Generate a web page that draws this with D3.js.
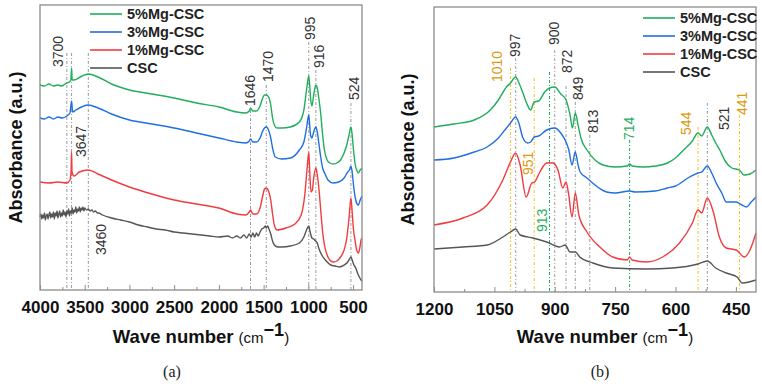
<!DOCTYPE html>
<html><head><meta charset="utf-8">
<script src="https://cdn.jsdelivr.net/npm/d3@7/dist/d3.min.js"></script>
<style>
html,body{margin:0;padding:0;background:#fff;}
svg{display:block;font-family:"Liberation Sans",Arial,sans-serif;}
</style></head>
<body>
<svg id="chart" width="762" height="384"></svg>
<script>
// ---------------- DATA ----------------
const seriesNames = ["5%Mg-CSC", "3%Mg-CSC", "1%Mg-CSC", "CSC"];

// Panel (a): [wavenumber, absorbance (a.u., offset-stacked)]
const a_mg5 = [[4000,2.05],[3950,2.04],[3900,2.06],[3850,2.04],[3800,2.05],[3760,2.04],[3720,2.06],[3700,2.07],[3670,2.08],[3655,2.10],[3647,2.22],[3640,2.10],[3620,2.10],[3550,2.13],[3460,2.16],[3350,2.13],[3200,2.06],[3000,2.00],[2750,1.96],[2500,1.92],[2250,1.87],[2000,1.83],[1800,1.78],[1700,1.77],[1660,1.79],[1646,1.82],[1620,1.79],[1580,1.79],[1540,1.84],[1510,1.92],[1490,1.95],[1470,1.95],[1445,1.93],[1420,1.85],[1400,1.72],[1380,1.65],[1350,1.62],[1300,1.62],[1200,1.63],[1100,1.68],[1050,1.80],[1020,2.00],[995,2.14],[985,2.05],[975,1.92],[960,1.84],[940,1.95],[916,2.05],[900,2.02],[880,1.90],[860,1.75],[840,1.55],[820,1.40],[790,1.30],[760,1.27],[720,1.26],[680,1.27],[640,1.30],[600,1.37],[570,1.45],[545,1.55],[524,1.63],[510,1.55],[495,1.40],[475,1.25],[455,1.19],[440,1.17],[420,1.20],[400,1.22]];
const a_mg3 = [[4000,1.72],[3950,1.71],[3900,1.73],[3850,1.71],[3800,1.73],[3750,1.72],[3700,1.74],[3665,1.77],[3647,1.89],[3635,1.78],[3600,1.80],[3460,1.85],[3350,1.82],[3200,1.76],[3000,1.70],[2750,1.66],[2500,1.62],[2250,1.57],[2000,1.52],[1800,1.48],[1700,1.47],[1660,1.49],[1646,1.51],[1620,1.48],[1580,1.48],[1540,1.52],[1510,1.59],[1490,1.62],[1470,1.63],[1445,1.60],[1420,1.52],[1400,1.42],[1370,1.33],[1300,1.31],[1200,1.32],[1100,1.40],[1050,1.48],[1020,1.62],[995,1.75],[985,1.65],[975,1.55],[960,1.52],[940,1.58],[916,1.63],[900,1.58],[880,1.45],[860,1.32],[840,1.22],[813,1.16],[780,1.10],[724,1.07],[660,1.08],[600,1.12],[560,1.18],[540,1.20],[524,1.24],[510,1.18],[495,1.05],[475,0.92],[455,0.86],[440,0.85],[420,0.90],[400,0.94]];
const a_mg1 = [[4000,1.08],[3900,1.07],[3800,1.08],[3700,1.07],[3665,1.10],[3652,1.20],[3647,1.38],[3642,1.18],[3620,1.14],[3560,1.18],[3460,1.20],[3350,1.16],[3200,1.10],[3000,1.03],[2750,0.96],[2500,0.90],[2250,0.86],[2000,0.82],[1800,0.76],[1700,0.75],[1660,0.78],[1646,0.80],[1620,0.76],[1580,0.76],[1540,0.82],[1510,0.94],[1490,1.01],[1470,1.02],[1445,0.99],[1420,0.90],[1400,0.76],[1380,0.65],[1350,0.60],[1250,0.62],[1150,0.66],[1080,0.75],[1040,0.95],[1015,1.20],[995,1.38],[985,1.20],[970,0.98],[955,1.00],[940,1.12],[916,1.22],[900,1.15],[880,1.00],[860,0.78],[840,0.58],[820,0.45],[790,0.35],[760,0.30],[720,0.28],[680,0.29],[640,0.33],[600,0.40],[570,0.52],[545,0.72],[524,0.92],[510,0.78],[495,0.60],[478,0.50],[460,0.40],[440,0.37],[425,0.42],[410,0.50],[400,0.52]];
const a_csc = [[4000,0.73],[3990,0.76],[3980,0.71],[3970,0.75],[3960,0.72],[3950,0.77],[3940,0.70],[3930,0.74],[3920,0.76],[3910,0.71],[3900,0.75],[3890,0.78],[3880,0.72],[3870,0.76],[3860,0.73],[3850,0.78],[3840,0.71],[3830,0.77],[3820,0.74],[3810,0.79],[3800,0.72],[3790,0.76],[3780,0.79],[3770,0.73],[3760,0.77],[3750,0.74],[3740,0.80],[3730,0.75],[3720,0.78],[3710,0.73],[3700,0.79],[3690,0.76],[3680,0.81],[3670,0.74],[3660,0.79],[3650,0.77],[3640,0.82],[3630,0.76],[3620,0.80],[3610,0.78],[3600,0.83],[3590,0.77],[3580,0.81],[3570,0.79],[3560,0.83],[3550,0.78],[3540,0.82],[3530,0.80],[3520,0.83],[3510,0.79],[3500,0.82],[3480,0.80],[3460,0.81],[3440,0.79],[3420,0.80],[3400,0.78],[3380,0.79],[3360,0.77],[3340,0.77],[3320,0.76],[3300,0.75],[3200,0.72],[3100,0.70],[3000,0.68],[2900,0.65],[2800,0.63],[2700,0.61],[2600,0.60],[2500,0.58],[2400,0.57],[2300,0.56],[2200,0.55],[2100,0.54],[2000,0.53],[1900,0.54],[1850,0.52],[1800,0.54],[1760,0.52],[1720,0.55],[1690,0.52],[1660,0.56],[1640,0.53],[1620,0.57],[1600,0.53],[1580,0.57],[1560,0.54],[1540,0.58],[1520,0.61],[1500,0.62],[1480,0.64],[1470,0.62],[1455,0.64],[1440,0.61],[1420,0.56],[1400,0.49],[1380,0.45],[1340,0.43],[1300,0.43],[1200,0.44],[1100,0.47],[1050,0.53],[1020,0.60],[995,0.64],[980,0.58],[960,0.52],[940,0.51],[920,0.49],[900,0.47],[880,0.41],[850,0.35],[800,0.29],[750,0.25],[700,0.24],[650,0.23],[600,0.25],[560,0.28],[540,0.31],[524,0.33],[510,0.30],[490,0.25],[470,0.22],[450,0.17],[430,0.13],[410,0.10],[400,0.09]];

// Panel (b)
const b_mg5 = [[1200,1.65],[1150,1.68],[1100,1.72],[1060,1.82],[1040,1.92],[1020,2.05],[1010,2.09],[997,2.15],[990,2.10],[980,2.00],[970,1.89],[960,1.82],[951,1.90],[940,1.91],[925,2.00],[913,2.04],[900,2.05],[885,1.98],[872,1.92],[862,1.77],[856,1.64],[849,1.79],[842,1.67],[835,1.54],[820,1.42],[800,1.32],[780,1.27],[750,1.25],[720,1.26],[714,1.28],[708,1.26],[680,1.25],[650,1.26],[620,1.29],[600,1.34],[580,1.42],[560,1.50],[544,1.59],[535,1.56],[521,1.65],[510,1.57],[500,1.49],[490,1.42],[475,1.30],[460,1.24],[441,1.22],[430,1.17],[415,1.18],[400,1.22]];
const b_mg3 = [[1200,1.32],[1150,1.34],[1100,1.40],[1068,1.45],[1040,1.54],[1020,1.64],[1010,1.69],[997,1.75],[990,1.70],[979,1.54],[967,1.49],[960,1.50],[951,1.55],[940,1.56],[920,1.62],[900,1.64],[885,1.59],[872,1.50],[865,1.42],[857,1.27],[849,1.40],[842,1.27],[837,1.20],[820,1.14],[806,1.09],[790,1.04],[771,1.00],[750,0.99],[714,1.01],[700,1.00],[650,1.01],[620,1.04],[600,1.06],[565,1.15],[544,1.19],[535,1.20],[521,1.26],[510,1.19],[499,1.09],[485,0.99],[474,0.90],[449,0.90],[435,0.87],[424,0.85],[412,0.90],[400,0.95]];
const b_mg1 = [[1200,0.67],[1128,0.74],[1068,0.87],[1029,1.12],[1010,1.30],[997,1.39],[986,1.27],[971,0.95],[957,1.09],[950,1.10],[937,1.20],[920,1.29],[905,1.29],[892,1.22],[880,1.04],[872,1.10],[866,0.99],[857,0.75],[849,0.99],[840,0.77],[820,0.60],[788,0.45],[756,0.35],[720,0.32],[714,0.35],[708,0.32],[672,0.30],[632,0.35],[590,0.49],[558,0.69],[544,0.82],[535,0.79],[521,0.94],[506,0.80],[491,0.55],[474,0.44],[449,0.42],[429,0.35],[415,0.42],[400,0.59]];
const b_csc = [[1200,0.43],[1128,0.45],[1068,0.47],[1029,0.55],[1010,0.60],[997,0.63],[986,0.57],[954,0.54],[920,0.50],[888,0.45],[874,0.47],[862,0.40],[849,0.40],[838,0.35],[805,0.29],[756,0.24],[672,0.23],[607,0.24],[544,0.28],[521,0.31],[500,0.24],[474,0.19],[447,0.15],[434,0.09],[400,0.12]];

// Tick labels
const ticksA = [4000, 3500, 3000, 2500, 2000, 1500, 1000, 500];
const minorTicksA = [3750, 3250, 2750, 2250, 1750, 1250, 750];
const ticksB = [1200, 1050, 900, 750, 600, 450];
const minorTicksB = [1125, 975, 825, 675, 525];

// Peak annotations: wavenumber, label, group
const peaksA = [[3700,"3700","k"],[3647,"3647","k"],[3460,"3460","k"],[1646,"1646","k"],[1470,"1470","k"],[995,"995","k"],[916,"916","k"],[524,"524","k"]];
const peaksB = [[1010,"1010","o"],[997,"997","k"],[951,"951","o"],[913,"913","g"],[900,"900","k"],[872,"872","k"],[849,"849","k"],[813,"813","k"],[714,"714","g"],[544,"544","o"],[521,"521","k"],[441,"441","o"]];

// ---------------- LAYOUT / STYLE ----------------
const colors = ["#1fae5b", "#1f6fe0", "#f23b3f", "#555555"];
const peakLineColor = {k:"#9a9a9a", o:"#f7c21e", g:"#1fae5b"};
const peakTextColor = {k:"#333333", o:"#dc9a12", g:"#1fae5b"};
// [label x offset, label bottom y, line top y]
const layoutA = [[-9,67,53],[9,157,53],[13,255,53],[-1,106,110],[2,82,85],[1,40,42],[3,68,70],[3,100,103]];
const layoutB = [[-14,82,68],[-1,57,58],[-6,175,78],[-8,232,72],[-1,45,50],[1,73,86],[3,100,102],[3,133,135],[-1,140,140],[-12,135,127],[17,130,103],[2,115,115]];

const svg = d3.select("#chart");

function panel(cfg) {
  const {x, y, data, ticks, minor, peaks, layout, legend, ylabX, titleX, cap, capX} = cfg;
  const [x0, x1] = x.range(), [yb, yt] = y.range();
  const g = svg.append("g");

  // peak guide lines
  peaks.forEach((p, i) => {
    const px = x(p[0]);
    g.append("line").attr("x1", px).attr("x2", px).attr("y1", layout[i][2]).attr("y2", yb)
      .attr("stroke", peakLineColor[p[2]]).attr("stroke-width", 1)
      .attr("stroke-dasharray", "3,2,1,2");
  });

  // curves
  const line = d3.line().x(d => x(d[0])).y(d => y(d[1])).curve(d3.curveMonotoneX);
  const order = [3, 2, 1, 0];
  order.forEach(k => {
    g.append("path").datum(data[k]).attr("d", line).attr("fill", "none")
      .attr("stroke", colors[k]).attr("stroke-width", 1.4).attr("stroke-linejoin", "round");
  });

  // peak labels
  peaks.forEach((p, i) => {
    const px = x(p[0]) + layout[i][0];
    g.append("text").attr("transform", `translate(${px},${layout[i][1]}) rotate(-90)`)
      .attr("dy", "0.36em").attr("font-size", 14).attr("fill", peakTextColor[p[2]])
      .text(p[1]);
  });

  // frame
  g.append("rect").attr("x", x0).attr("y", yt).attr("width", x1 - x0).attr("height", yb - yt)
    .attr("fill", "none").attr("stroke", "#8c8c8c").attr("stroke-width", 1.3);

  // axis (ticks inward)
  const ax = d3.axisBottom(x).tickValues(ticks).tickSize(-5).tickPadding(11).tickFormat(d3.format("d"));
  const axG = g.append("g").attr("transform", `translate(0,${yb})`).call(ax);
  axG.select(".domain").remove();
  axG.selectAll(".tick line").attr("stroke", "#8c8c8c");
  axG.selectAll(".tick text").attr("font-size", 17).attr("font-weight", "bold").attr("fill", "#111")
    .attr("font-family", "'Liberation Sans', Arial, sans-serif");
  const mx = d3.axisBottom(x).tickValues(minor).tickSize(-3).tickFormat("");
  const mG = g.append("g").attr("transform", `translate(0,${yb})`).call(mx);
  mG.select(".domain").remove();
  mG.selectAll(".tick line").attr("stroke", "#8c8c8c");

  // x title
  const t = g.append("text").attr("x", titleX).attr("y", 343).attr("text-anchor", "middle").attr("fill", "#111");
  t.append("tspan").attr("font-size", 18.5).attr("font-weight", "bold").text("Wave number ");
  t.append("tspan").attr("font-size", 15).text("(cm");
  t.append("tspan").attr("font-size", 18).attr("font-weight", "bold").attr("dy", -7).text("\u22121");
  t.append("tspan").attr("font-size", 15).attr("dy", 7).text(")");

  // y title
  g.append("text").attr("transform", `translate(${ylabX},${(yb + yt) / 2}) rotate(-90)`)
    .attr("text-anchor", "middle").attr("dy", "0.36em").attr("font-size", 18).attr("font-weight", "bold")
    .attr("fill", "#111").text("Absorbance (a.u.)");

  // legend
  seriesNames.forEach((n, k) => {
    const ly = legend.y + k * legend.dy;
    g.append("line").attr("x1", legend.x).attr("x2", legend.x + 32).attr("y1", ly).attr("y2", ly)
      .attr("stroke", colors[k]).attr("stroke-width", 1.6);
    g.append("text").attr("x", legend.x + 37).attr("y", ly).attr("dy", "0.36em")
      .attr("font-size", 14.5).attr("font-weight", "bold").attr("fill", "#222").text(n);
  });

  // caption
  g.append("text").attr("x", capX).attr("y", 377).attr("text-anchor", "middle")
    .attr("font-family", "'Liberation Serif', 'Times New Roman', serif").attr("font-size", 16)
    .attr("fill", "#222").text(cap);
}

panel({
  x: d3.scaleLinear().domain([4000, 400]).range([40, 362]),
  y: d3.scaleLinear().domain([0, 2.85]).range([290, 5]),
  data: [a_mg5, a_mg3, a_mg1, a_csc],
  ticks: ticksA, minor: minorTicksA, peaks: peaksA, layout: layoutA,
  legend: {x: 90, y: 14, dy: 18}, ylabX: 16, titleX: 201, cap: "(a)", capX: 172
});
panel({
  x: d3.scaleLinear().domain([1200, 400]).range([434, 756]),
  y: d3.scaleLinear().domain([0, 2.85]).range([292, 7]),
  data: [b_mg5, b_mg3, b_mg1, b_csc],
  ticks: ticksB, minor: minorTicksB, peaks: peaksB, layout: layoutB,
  legend: {x: 643, y: 18, dy: 18}, ylabX: 408, titleX: 605, cap: "(b)", capX: 600
});
</script>
</body></html>
